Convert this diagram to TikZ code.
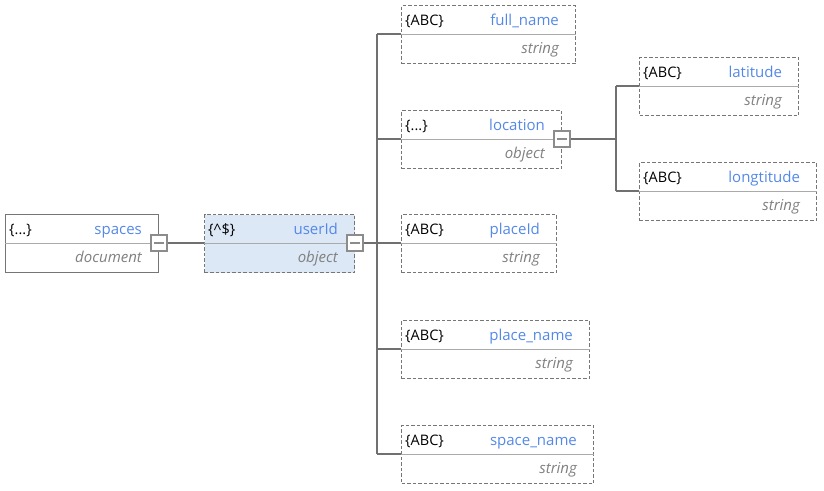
\documentclass[tikz,border=0pt]{standalone}
\usepackage{fontspec}
\setmainfont{Open Sans}
\definecolor{nameblue}{RGB}{84,136,232}
\definecolor{typegray}{RGB}{128,128,128}
\definecolor{boxgray}{RGB}{118,118,118}
\definecolor{divgray}{RGB}{170,170,170}
\definecolor{linegray}{RGB}{112,112,112}
\definecolor{tglgray}{RGB}{140,140,140}
\definecolor{selfill}{RGB}{220,232,246}
\tikzset{
 box/.style={draw=boxgray, minimum height=58pt, anchor=north west, inner sep=0pt, line width=1.1pt},
 dbox/.style={box, dash pattern=on 3.5pt off 2pt},
 divider/.style={draw=divgray, line width=1pt},
 tgl/.style={draw=tglgray, fill=white, minimum size=16pt, inner sep=0pt, line width=1.3pt},
 conn/.style={draw=linegray, line width=1.6pt},
 iconlbl/.style={anchor=base west, inner sep=0pt, font=\fontsize{14.5}{16}\selectfont, text=black},
 namelbl/.style={anchor=base east, inner sep=0pt, font=\fontsize{15}{17}\selectfont, text=nameblue},
 typelbl/.style={anchor=base east, inner sep=0pt, font=\fontsize{15}{17}\selectfont\itshape, text=typegray},
}
% #1 id, #2 x, #3 y, #4 width, #5 style, #6 icon, #7 name, #8 type
\newcommand{\entbox}[8]{%
  \node[#5, minimum width=#4pt] (#1) at (#2,#3) {};
  \coordinate (#1L) at ([yshift=-29pt]#1.north west);
  \coordinate (#1R) at ([yshift=-29pt]#1.north east);
  \draw[divider] (#1L) -- (#1R);
  \node[iconlbl] (#1i) at ([xshift=4pt,yshift=-20pt]#1.north west) {#6};
  \node[namelbl] (#1n) at ([xshift=-17pt,yshift=-20pt]#1.north east) {#7};
  \node[typelbl] (#1t) at ([xshift=-17pt,yshift=-48.5pt]#1.north east) {#8};
}
\newcommand{\toggle}[2]{%
  \node[tgl] (#1) at (#2) {};
  \draw[draw=tglgray, line width=1.2pt] ([xshift=-5pt]#1.center) -- ([xshift=5pt]#1.center);
}
\begin{document}
\begin{tikzpicture}[x=1pt,y=-1pt]
\useasboundingbox (0,0) rectangle (824,490);
\entbox{sp}{5}{214}{153}{box}{\{...\}}{spaces}{document}
\entbox{uid}{204}{214}{150}{dbox, fill=selfill}{\{\textasciicircum\$\}}{userId}{object}
\entbox{fn}{401}{5}{174}{dbox}{\{ABC\}}{full\_name}{string}
\entbox{loc}{401}{110}{160}{dbox}{\{...\}}{location}{object}
\entbox{pid}{401}{214}{155}{dbox}{\{ABC\}}{placeId}{string}
\entbox{pn}{401}{320}{188}{dbox}{\{ABC\}}{place\_name}{string}
\entbox{sn}{401}{425}{192}{dbox}{\{ABC\}}{space\_name}{string}
\entbox{lat}{639}{57}{159}{dbox}{\{ABC\}}{latitude}{string}
\entbox{lon}{639}{162}{177}{dbox}{\{ABC\}}{longtitude}{string}
% connectors
\coordinate (bus) at (377,243);
\coordinate (bus2) at (616,139);
\draw[conn] (spR) -- (uidL);
\draw[conn] (uidR) -- (bus);
\draw[conn] (bus |- fnL) -- (bus |- snL);
\foreach \b in {fn,loc,pid,pn,sn} {\draw[conn] (bus |- \b L) -- (\b L);}
\draw[conn] (locR) -- (bus2);
\draw[conn] (bus2 |- latL) -- (bus2 |- lonL);
\foreach \b in {lat,lon} {\draw[conn] (bus2 |- \b L) -- (\b L);}
% toggles
\toggle{tsp}{spR}
\toggle{tuid}{uidR}
\toggle{tloc}{locR}
\end{tikzpicture}
\end{document}
